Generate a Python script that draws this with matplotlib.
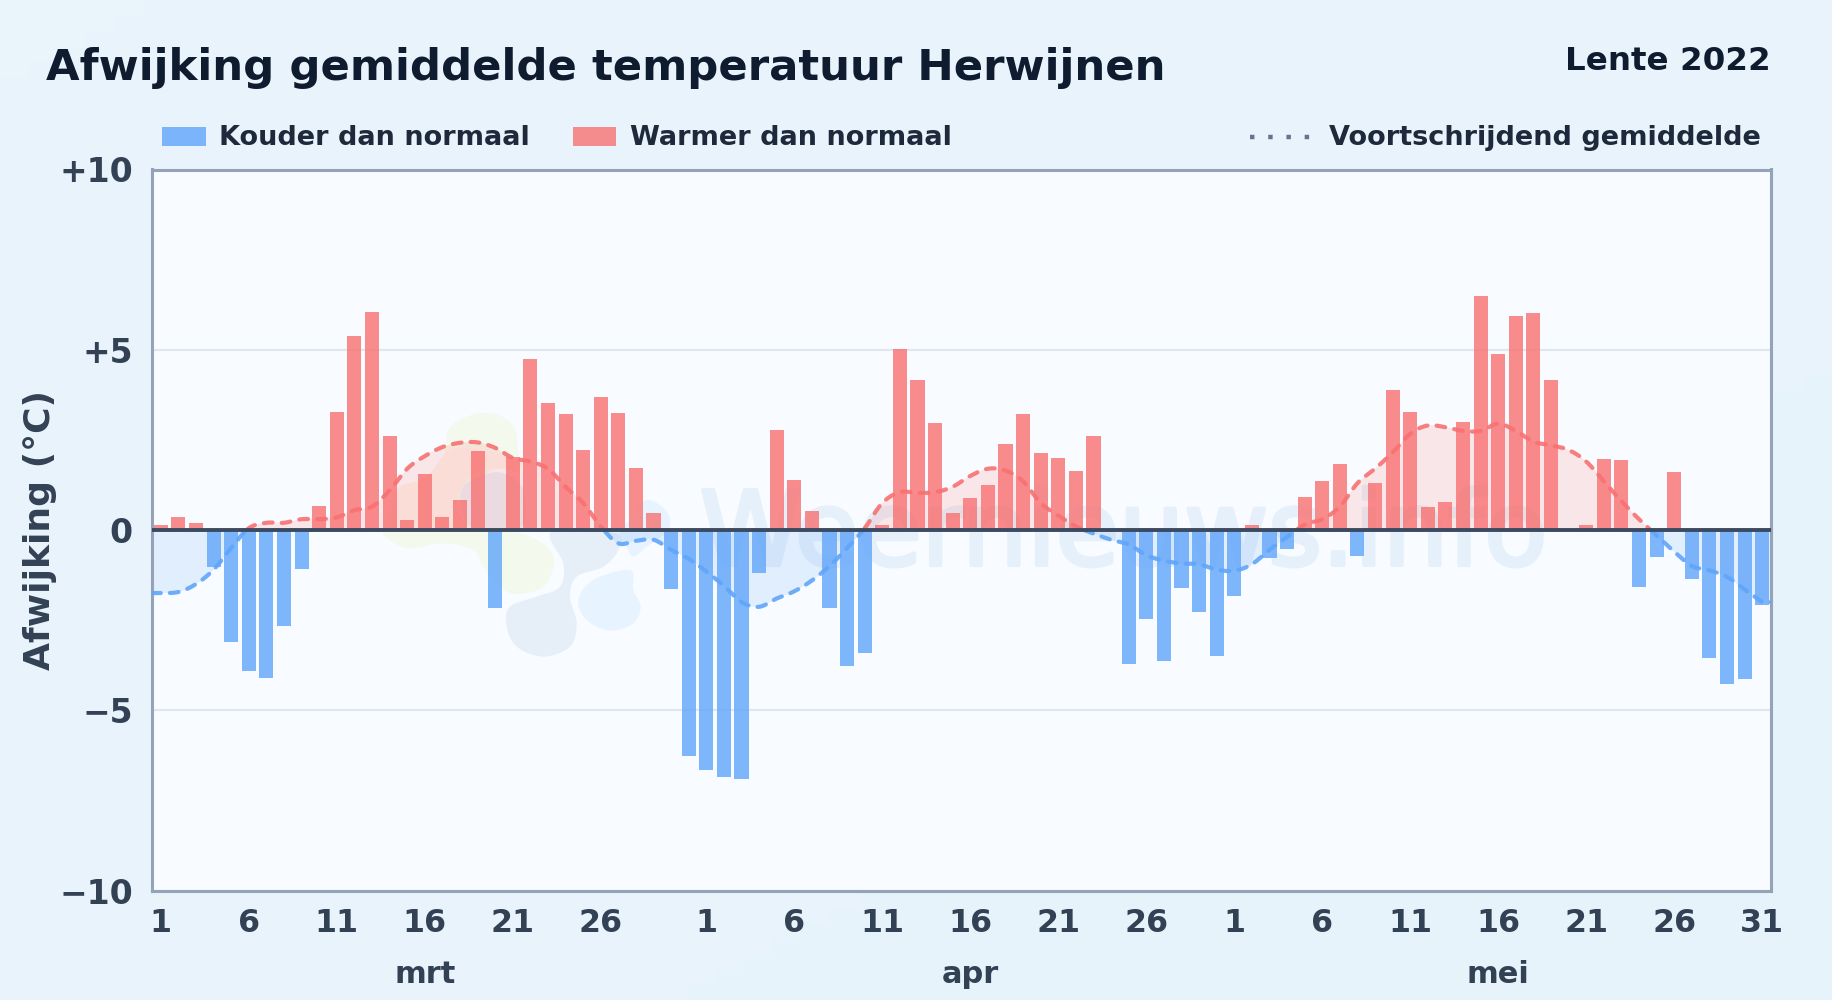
import numpy as np
import matplotlib
matplotlib.use("Agg")
import matplotlib.pyplot as plt
import matplotlib.patheffects as pe
from matplotlib.patches import Polygon
from matplotlib.lines import Line2D

months = ["mrt", "apr", "mei"]
month_lengths = [31, 30, 31]
month_label_days = [15, 46.0, 76.0]
tick_days_in_month = [1, 6, 11, 16, 21, 26]

deviation = [
    0.14, 0.36, 0.20, -1.04, -3.10, -3.90, -4.10, -2.67, -1.09, 0.66,
    3.28, 5.38, 6.05, 2.62, 0.28, 1.54, 0.36, 0.83, 2.18, -2.15,
    2.02, 4.75, 3.53, 3.23, 2.23, 3.69, 3.25, 1.71, 0.47, -1.63, -6.27,
    -6.66, -6.86, -6.91, -1.19, 2.78, 1.39, 0.53, -2.16, -3.77, -3.41,
    0.14, 5.03, 4.17, 2.97, 0.47, 0.89, 1.25, 2.39, 3.22, 2.14,
    2.00, 1.64, 2.61, 0.0, -3.71, -2.46, -3.63, -1.60, -2.27, -3.49,
    -1.82, 0.14, -0.79, -0.52, 0.92, 1.35, 1.82, -0.71, 1.30, 3.89,
    3.26, 0.63, 0.77, 3.00, 6.48, 4.88, 5.93, 6.01, 4.17, 0.0,
    0.14, 1.98, 1.93, -1.59, -0.76, 1.60, -1.36, -3.54, -4.27, -4.13, -2.07,
]
moving_avg = [
    -1.75, -1.72, -1.50, -1.10, -0.50, 0.05, 0.20, 0.20, 0.30, 0.30,
    0.35, 0.55, 0.65, 1.10, 1.70, 2.05, 2.30, 2.42, 2.43, 2.28,
    2.00, 1.90, 1.70, 1.20, 0.75, 0.10, -0.37, -0.30, -0.27, -0.55, -0.80,
    -1.15, -1.55, -2.00, -2.13, -1.90, -1.70, -1.40, -1.00, -0.50, 0.05,
    0.75, 1.05, 1.03, 1.05, 1.20, 1.50, 1.70, 1.65, 1.35, 0.75,
    0.40, 0.10, -0.10, -0.27, -0.40, -0.70, -0.85, -0.93, -0.95, -1.10,
    -1.13, -0.95, -0.55, -0.20, 0.15, 0.30, 0.65, 1.30, 1.70, 2.15,
    2.67, 2.90, 2.85, 2.75, 2.75, 2.95, 2.75, 2.45, 2.35, 2.22,
    1.90, 1.35, 0.80, 0.30, -0.15, -0.60, -1.00, -1.12, -1.30, -1.65, -2.00,
]
y_ticks = [-10, -5, 0, 5, 10]
y_tick_labels = ["\u221210", "\u22125", "0", "+5", "+10"]

BLUE = "#60a5fa"
RED = "#f87171"
INK = "#0f1c30"
SLATE = "#334155"
W, H = 1832, 1000
L, R, T, B = 152, 1771, 169.5, 890.5

plt.rcParams["font.family"] = ["DejaVu Sans"]
plt.rcParams["font.weight"] = "bold"
fig = plt.figure(figsize=(W / 100, H / 100), dpi=100, facecolor="#e8f3fc")
bg = fig.add_axes([0, 0, 1, 1], zorder=-5)
bg.axis("off")
gx, gy = np.meshgrid(np.linspace(0, 1, 64), np.linspace(0, 1, 64))
g = (gx + gy) / 2
col0, col1 = np.array([0.918, 0.957, 0.988]), np.array([0.906, 0.953, 0.988])
bg.imshow(col0 + (col1 - col0) * g[..., None], extent=[0, 1, 0, 1], aspect="auto")

ax = fig.add_axes([L / W, 1 - B / H, (R - L) / W, (B - T) / H], facecolor="#f8fbff")
x = np.arange(len(deviation))
ax.set_xlim(-0.5, len(deviation) - 0.5)
ax.set_ylim(-10, 10)


def closed_curve(pts, n=10):
    p = np.asarray(pts, float)
    prev, nxt, nxt2 = np.roll(p, 1, 0), np.roll(p, -1, 0), np.roll(p, -2, 0)
    out = []
    for t in np.linspace(0, 1, n, endpoint=False):
        out.append(0.5 * (2 * p + (nxt - prev) * t + (2 * prev - 5 * p + 4 * nxt - nxt2) * t**2
                          + (3 * p - prev - 3 * nxt + nxt2) * t**3))
    return np.stack(out, 1).reshape(-1, 2)


def logo_blob(pts, color):
    c = closed_curve(pts)
    fx_, fy_ = (360 + c[:, 0] / 3) / W, 1 - (390 + c[:, 1] / 3) / H
    ax.add_patch(Polygon(np.c_[fx_, fy_], transform=fig.transFigure, fc=color, ec="none", zorder=0.6))


logo_blob([(265, 120), (320, 80), (400, 70), (460, 110), (475, 190), (480, 240), (400, 240), (320, 300),
           (300, 380), (370, 425), (480, 430), (560, 470), (582, 520), (550, 590), (470, 612), (420, 590),
           (370, 530), (340, 480), (250, 460), (150, 475), (90, 450), (70, 420), (110, 330), (190, 280),
           (250, 200)], "#f3f9ec")
logo_blob([(110, 300), (200, 260), (270, 180), (360, 180), (440, 200), (470, 240), (400, 235), (320, 270),
           (290, 340), (300, 415), (150, 418), (100, 400)], "#fbf1e8")
logo_blob([(310, 290), (370, 255), (430, 250), (490, 300), (480, 415), (340, 415), (305, 350)], "#e9edf4")
logo_blob([(575, 425), (770, 430), (775, 480), (730, 530), (650, 560), (630, 620), (650, 700), (630, 770),
           (550, 800), (470, 770), (440, 710), (450, 650), (530, 620), (600, 590), (610, 520)], "#e6eff8")
logo_blob([(700, 570), (810, 540), (820, 600), (842, 650), (820, 700), (750, 722), (680, 690), (655, 630)],
          "#e7f3fe")
logo_blob([(780, 430), (810, 390), (860, 330), (920, 365), (925, 420), (860, 470), (820, 500), (800, 470)],
          "#e7f3fe")

ax.text(0.6, -0.97, "Weernieuws.info", transform=ax.get_yaxis_transform(), ha="center", va="baseline",
        fontsize=74, color="#e6f0fa", fontweight="normal", zorder=0.7,
        path_effects=[pe.withStroke(linewidth=3, foreground="#e6f0fa")])

ax.yaxis.grid(True, color="#dfe6ed", lw=1.5, zorder=1)
ax.set_axisbelow(True)
for s in ax.spines.values():
    s.set_color("#94a3b8")
    s.set_linewidth(2.2)

dev = np.array(deviation)
ax.bar(x, dev, width=0.8, color=[RED if v >= 0 else BLUE for v in dev], alpha=0.8, lw=0, zorder=2)


def smooth(xs, ys, n=12):
    xs = np.asarray(xs, float)
    ys = np.asarray(ys, float)
    m = np.gradient(ys, xs)
    t = np.linspace(0, 1, n, endpoint=False)[None, :]
    y0, y1, m0, m1 = ys[:-1, None], ys[1:, None], m[:-1, None], m[1:, None]
    h00 = 2 * t**3 - 3 * t**2 + 1
    h10 = t**3 - 2 * t**2 + t
    h01 = -2 * t**3 + 3 * t**2
    h11 = t**3 - t**2
    fy = h00 * y0 + h10 * m0 + h01 * y1 + h11 * m1
    fx = xs[:-1, None] + t
    return np.r_[fx.ravel(), xs[-1]], np.r_[fy.ravel(), ys[-1]]


fx, fy = smooth(x, moving_avg)
# the curve runs on to both plot edges at its end values
fx = np.r_[-0.5, fx, len(x) - 0.5]
fy = np.r_[fy[0], fy, fy[-1]]
ax.fill_between(fx, 0, fy, where=fy >= 0, color=RED, alpha=0.15, lw=0, zorder=1.5, interpolate=True)
ax.fill_between(fx, 0, fy, where=fy <= 0, color=BLUE, alpha=0.15, lw=0, zorder=1.5, interpolate=True)
dash_kw = dict(lw=3.0, dashes=(2.1, 2.2), zorder=3, dash_capstyle="round", alpha=0.9)
ax.plot(fx, np.where(fy >= 0, fy, np.nan), color=RED, **dash_kw)
ax.plot(fx, np.where(fy <= 0, fy, np.nan), color=BLUE, **dash_kw)
ax.axhline(0, color="#3b4a60", lw=2.8, zorder=4)

ax.set_yticks(y_ticks, y_tick_labels)
ax.tick_params(axis="y", length=0, pad=13.8, labelsize=23.8, labelcolor=SLATE)

starts = np.cumsum([0] + month_lengths[:-1])
pos, labs = [], []
for st, ml in zip(starts, month_lengths):
    for d in tick_days_in_month:
        pos.append(st + d - 1)
        labs.append(str(d))
pos.append(len(deviation) - 1)
labs.append("31")
ax.set_xticks(pos, labs)
ax.tick_params(axis="x", length=0, pad=12.5, labelsize=22.8, labelcolor=SLATE)
for mx, mt in zip(month_label_days, months):
    ax.text(mx, -(974.5 - B) / (B - T), mt, transform=ax.get_xaxis_transform(), ha="center", va="center",
            fontsize=22, color=SLATE)

fig.text(23 / W, 1 - 530 / H, "Afwijking (\u00b0C)", rotation=90, ha="left", va="center",
         fontsize=26, color=SLATE)
fig.text(46 / W, 1 - 68 / H, "Afwijking gemiddelde temperatuur Herwijnen", ha="left", va="center",
         fontsize=31.2, color=INK)
fig.text(1771 / W, 1 - 62 / H, "Lente 2022", ha="right", va="center", fontsize=23.4, color=INK)

# legend
fig.patches.extend([
    plt.Rectangle((162 / W, 1 - 146 / H), 44 / W, 19 / H, transform=fig.transFigure, fc=BLUE, alpha=0.8, lw=0),
    plt.Rectangle((573 / W, 1 - 146 / H), 43 / W, 19 / H, transform=fig.transFigure, fc=RED, alpha=0.8, lw=0),
])
for lx, lt in [(219, "Kouder dan normaal"), (630, "Warmer dan normaal"), (1329, "Voortschrijdend gemiddelde")]:
    fig.text(lx / W, 1 - 138 / H, lt, va="center", fontsize=19.55, color="#1e293b")
fig.add_artist(Line2D([1250 / W, 1310 / W], [1 - 137 / H] * 2, transform=fig.transFigure,
                      color="#64748b", lw=3.2, dashes=(1.0, 3.1), dash_capstyle="butt"))

fig.savefig("out.png", dpi=100, facecolor=fig.get_facecolor())
